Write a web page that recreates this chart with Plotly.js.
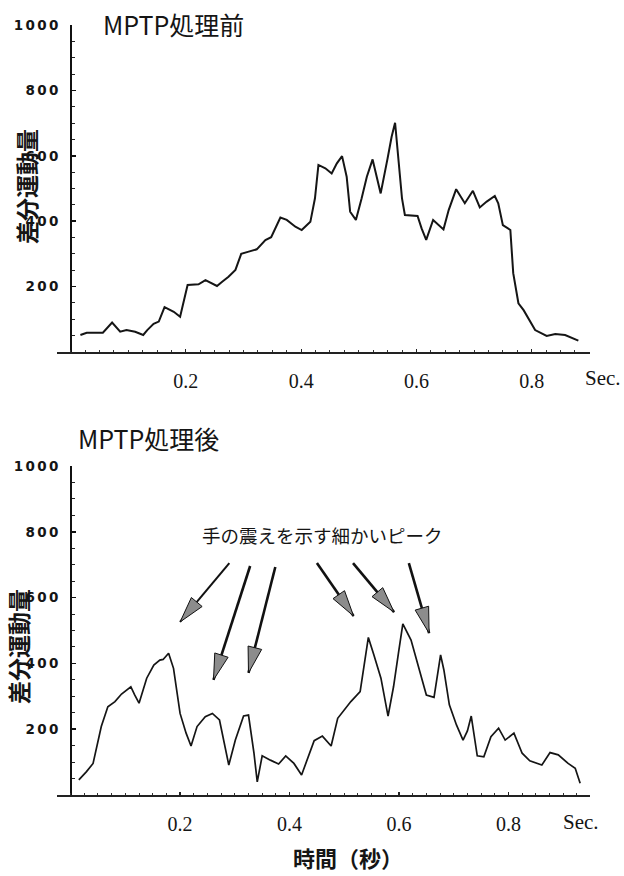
<!DOCTYPE html>
<html>
<head>
<meta charset="utf-8">
<script src="https://cdn.plot.ly/plotly-3.0.1.min.js"></script>
<style>
  html, body { margin: 0; padding: 0; background: #fff; }
  #chart { width: 624px; height: 876px; }
</style>
</head>
<body>
<div id="chart"></div>
<script>
// 差分運動量の時間変化（MPTP処理前／処理後）
const tBefore = [0.017, 0.028, 0.056, 0.072, 0.086, 0.097, 0.112, 0.126, 0.133, 0.144, 0.153, 0.163, 0.179, 0.190,
  0.203, 0.222, 0.234, 0.242, 0.254, 0.263, 0.274, 0.286, 0.296, 0.309, 0.323, 0.338, 0.348, 0.364, 0.375, 0.390,
  0.401, 0.416, 0.424, 0.430, 0.442, 0.453, 0.462, 0.471, 0.479, 0.485, 0.495, 0.505, 0.514, 0.524, 0.531, 0.538,
  0.550, 0.557, 0.563, 0.569, 0.575, 0.580, 0.602, 0.609, 0.617, 0.629, 0.647, 0.656, 0.669, 0.684, 0.698, 0.710,
  0.722, 0.736, 0.742, 0.750, 0.763, 0.768, 0.777, 0.786, 0.797, 0.806, 0.826, 0.841, 0.858, 0.881];
const ampBefore = [52, 59, 59, 90, 62, 67, 62, 52, 67, 86, 93, 137, 123, 108,
  205, 207, 220, 212, 202, 215, 230, 251, 300, 307, 314, 342, 351, 411, 404, 383,
  373, 398, 470, 572, 562, 546, 577, 599, 536, 429, 404, 470, 536, 589, 536, 485,
  592, 658, 701, 592, 470, 419, 416, 378, 343, 404, 375, 434, 498, 455, 493, 442,
  460, 477, 455, 388, 373, 241, 149, 128, 93, 67, 49, 55, 52, 35];

const tAfter = [0.015, 0.029, 0.041, 0.047, 0.056, 0.068, 0.081, 0.093, 0.099, 0.110, 0.117, 0.125, 0.139, 0.152,
  0.163, 0.169, 0.179, 0.188, 0.200, 0.211, 0.220, 0.231, 0.246, 0.259, 0.272, 0.289, 0.301, 0.316, 0.325, 0.335,
  0.341, 0.350, 0.365, 0.380, 0.393, 0.408, 0.422, 0.435, 0.445, 0.460, 0.476, 0.488, 0.497, 0.512, 0.529, 0.544,
  0.554, 0.567, 0.580, 0.590, 0.599, 0.607, 0.622, 0.635, 0.650, 0.664, 0.670, 0.676, 0.682, 0.692, 0.705, 0.717,
  0.725, 0.732, 0.743, 0.755, 0.768, 0.782, 0.794, 0.810, 0.825, 0.839, 0.861, 0.876, 0.891, 0.909, 0.922, 0.931];
const ampAfter = [46, 71, 96, 137, 208, 268, 284, 307, 314, 329, 304, 279, 355, 395,
  410, 412, 431, 385, 248, 188, 149, 208, 238, 248, 228, 91, 167, 240, 243, 127,
  40, 119, 106, 94, 119, 96, 61, 122, 165, 179, 149, 233, 253, 284, 314, 479,
  426, 355, 240, 329, 431, 520, 471, 390, 304, 297, 358, 426, 380, 274, 213, 167,
  195, 240, 119, 116, 177, 203, 167, 188, 127, 104, 91, 129, 122, 96, 81, 36];

const xTickVals = [0.2, 0.4, 0.6, 0.8];
const xTickText = ['0.2', '0.4', '0.6', '0.8'];
const yTickVals = [200, 400, 600, 800, 1000];
const yTickText = ['200', '400', '600', '800', '1000'];

// 震えのピークを指す矢印（先端と根元、下段グラフのデータ座標）
const arrowTipT = [0.200, 0.261, 0.325, 0.517, 0.591, 0.655];
const arrowTipV = [526, 350, 371, 544, 556, 492];
const arrowTailT = [0.290, 0.328, 0.374, 0.450, 0.516, 0.618];
const arrowTailV = [705, 696, 693, 705, 705, 705];

const W = 624, H = 876;
const fx = px => px / W;
const fy = py => (H - py) / H;

const INK = '#151515';
const jpFont = '"Noto Sans CJK JP", "Noto Sans CJK SC", sans-serif';
const serif = '"Liberation Serif", "DejaVu Serif", serif';

const topX = { domain: [fx(57), fx(590)], range: [-0.0236, 0.9012] };
const topY = { domain: [fy(352), fy(25)], range: [0, 1000] };
const botX = { domain: [fx(57), fx(590)], range: [-0.0249, 0.949] };
const botY = { domain: [fy(795), fy(466)], range: [0, 1000] };

// position of x = 0 in paper units, where the vertical axis sits
function zeroPos(ax) {
  const [d0, d1] = ax.domain, [r0, r1] = ax.range;
  return d0 + (0 - r0) / (r1 - r0) * (d1 - d0);
}

const spaced = s => '<span style="letter-spacing:2.4px">' + s + '</span>';

function xAxisCfg(ax, anchor) {
  return {
    domain: ax.domain, range: ax.range, anchor: anchor,
    showline: true, linecolor: '#222', linewidth: 2,
    showgrid: false, zeroline: false,
    tickmode: 'array', tickvals: xTickVals, ticktext: xTickText,
    ticks: 'inside', ticklen: 3, tickwidth: 1.2, tickcolor: '#222',
    minor: { tickmode: 'linear', tick0: 0, dtick: 0.025, ticks: 'inside', ticklen: 2.5, tickwidth: 1, tickcolor: '#333', showgrid: false },
    ticklabelstandoff: 10,
    tickfont: { family: serif, size: 20, color: INK }
  };
}
function yAxisCfg(ay, xAx) {
  return {
    domain: ay.domain, range: ay.range, anchor: 'free', position: zeroPos(xAx),
    showline: true, linecolor: '#111', linewidth: 2.4,
    showgrid: false, zeroline: false,
    tickmode: 'array', tickvals: yTickVals, ticktext: yTickText.map(spaced),
    ticks: 'inside', ticklen: 4, tickwidth: 1.5, tickcolor: '#111',
    minor: { tickmode: 'linear', tick0: 0, dtick: 50, ticks: 'inside', ticklen: 3, tickwidth: 1, tickcolor: '#222', showgrid: false },
    ticklabelstandoff: 6,
    tickfont: { family: '"DejaVu Sans", sans-serif', size: 13.5, color: INK, weight: 'bold' }
  };
}

const traces = [
  { x: tBefore, y: ampBefore, xaxis: 'x', yaxis: 'y', type: 'scatter', mode: 'lines',
    line: { color: INK, width: 2 }, hoverinfo: 'skip' },
  { x: tAfter, y: ampAfter, xaxis: 'x2', yaxis: 'y2', type: 'scatter', mode: 'lines',
    line: { color: INK, width: 1.7 }, hoverinfo: 'skip' }
];

// pixel scale of the lower panel, used to shape the arrowheads
const sx = (botX.domain[1] - botX.domain[0]) * W / (botX.range[1] - botX.range[0]);
const sy = (botY.domain[1] - botY.domain[0]) * H / (botY.range[1] - botY.range[0]);

const shapes = [];
const HEAD_LEN = 26, HEAD_HALF = 7;
arrowTipT.forEach((tx, i) => {
  const ty = arrowTipV[i];
  const bx = arrowTailT[i], by = arrowTailV[i];
  shapes.push({ type: 'line', xref: 'x2', yref: 'y2', x0: bx, y0: by, x1: tx, y1: ty,
    line: { color: '#111', width: i === 0 ? 2 : 2.6 } });
  let dx = (tx - bx) * sx, dy = (ty - by) * sy;
  const len = Math.hypot(dx, dy);
  dx /= len; dy /= len;
  const nx = -dy, ny = dx;
  const cx = -dx * HEAD_LEN, cy = -dy * HEAD_LEN;
  const p = `M0,0 L${(cx + nx * HEAD_HALF).toFixed(2)},${(cy + ny * HEAD_HALF).toFixed(2)} ` +
            `L${(cx - nx * HEAD_HALF).toFixed(2)},${(cy - ny * HEAD_HALF).toFixed(2)} Z`;
  shapes.push({ type: 'path', xref: 'x2', yref: 'y2', xsizemode: 'pixel', ysizemode: 'pixel',
    xanchor: tx, yanchor: ty, path: p, fillcolor: '#8c8c8c', line: { color: '#111', width: 1 } });
});

const annotations = [
  { text: 'MPTP処理前', xref: 'paper', yref: 'paper', x: fx(101), y: fy(24), xanchor: 'left', yanchor: 'middle',
    showarrow: false, font: { family: jpFont, size: 25, color: INK } },
  { text: 'MPTP処理後', xref: 'paper', yref: 'paper', x: fx(76), y: fy(438), xanchor: 'left', yanchor: 'middle',
    showarrow: false, font: { family: jpFont, size: 25, color: INK } },
  { text: '差分運動量', xref: 'paper', yref: 'paper', x: fx(26), y: fy(187), textangle: -90,
    xanchor: 'center', yanchor: 'middle', showarrow: false,
    font: { family: jpFont, size: 23, color: INK, weight: 'bold' } },
  { text: '差分運動量', xref: 'paper', yref: 'paper', x: fx(18), y: fy(647), textangle: -90,
    xanchor: 'center', yanchor: 'middle', showarrow: false,
    font: { family: jpFont, size: 23, color: INK, weight: 'bold' } },
  { text: 'Sec.', xref: 'paper', yref: 'paper', x: fx(603), y: fy(378), xanchor: 'center', yanchor: 'middle',
    showarrow: false, font: { family: serif, size: 21, color: INK } },
  { text: 'Sec.', xref: 'paper', yref: 'paper', x: fx(581), y: fy(822), xanchor: 'center', yanchor: 'middle',
    showarrow: false, font: { family: serif, size: 21, color: INK } },
  { text: '時間（秒）', xref: 'paper', yref: 'paper', x: fx(348), y: fy(857), xanchor: 'center', yanchor: 'middle',
    showarrow: false, font: { family: jpFont, size: 22, color: INK, weight: 'bold' } },
  { text: '手の震えを示す細かいピーク', xref: 'paper', yref: 'paper', x: fx(322), y: fy(535),
    xanchor: 'center', yanchor: 'middle', showarrow: false,
    font: { family: jpFont, size: 18.5, color: INK } }
];

const layout = {
  width: W, height: H,
  margin: { l: 0, r: 0, t: 0, b: 0 },
  paper_bgcolor: '#fff', plot_bgcolor: '#fff',
  showlegend: false,
  xaxis: xAxisCfg(topX, 'y'),
  yaxis: yAxisCfg(topY, topX),
  xaxis2: xAxisCfg(botX, 'y2'),
  yaxis2: yAxisCfg(botY, botX),
  shapes: shapes,
  annotations: annotations
};

Plotly.newPlot('chart', traces, layout, { staticPlot: true, displayModeBar: false });
</script>
</body>
</html>
